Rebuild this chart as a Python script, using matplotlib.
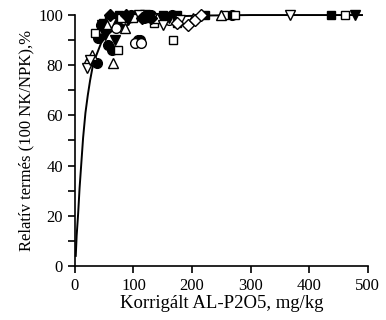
import matplotlib.pyplot as plt
import numpy as np

plt.rcParams['font.family'] = ['Liberation Serif', 'DejaVu Serif']

# fitted curve
curve_x = [1.5, 3, 5.6, 8, 11, 14, 18, 22, 26, 30, 35, 40, 45, 55, 65, 80, 100, 130, 170, 220, 300, 400, 490]
curve_y = [4, 12, 21, 31, 41, 51, 61, 68, 74, 79, 83, 86, 89, 92, 94, 96, 97.5, 98.8, 99.5, 99.8, 100, 100, 100]

# measured points by marker type
fcirc_x = [37, 39, 45, 56, 63, 70, 80, 95, 108, 111, 118, 130, 145, 165, 268]
fcirc_y = [81, 91, 96, 88, 86, 99, 97, 100, 90, 90, 99, 100, 99, 100, 100]
ocirc_x = [70, 85, 102, 113, 140, 160]
ocirc_y = [95, 98, 89, 89, 99, 98]
fsq_x = [48, 58, 75, 90, 105, 125, 150, 175, 222, 437]
fsq_y = [97, 98, 100, 99, 100, 99, 100, 100, 100, 100]
osq_x = [34, 55, 73, 78, 100, 135, 167, 175, 255, 273, 461]
osq_y = [93, 96, 86, 99, 99, 97, 90, 97, 100, 100, 100]
otri_x = [22, 29, 65, 85, 140, 201, 250]
otri_y = [82, 84, 81, 95, 99, 99, 100]
fdtri_x = [46, 52, 68, 90, 120, 160, 478]
fdtri_y = [96, 92, 90, 98, 100, 99, 100]
odtri_x = [20, 26, 62, 110, 150, 180, 367]
odtri_y = [79, 82, 97, 100, 96, 98, 100]
odia_x = [175, 193, 205, 215]
odia_y = [97, 96, 98, 100]
fdia_x = [60, 88, 115, 130]
fdia_y = [100, 100, 99, 99]

fig = plt.figure(figsize=(3.86, 3.2), dpi=100)
ax = fig.add_axes([0.194, 0.169, 0.759, 0.784])

ax.plot(curve_x, curve_y, 'k-', lw=1.4, zorder=1, clip_on=False)

ms = 7
kw = dict(ls='none', clip_on=False)
ax.plot(fcirc_x, fcirc_y, 'o', color='black', ms=ms, **kw)
ax.plot(ocirc_x, ocirc_y, 'o', mfc='white', mec='black', ms=ms, **kw)
ax.plot(fsq_x, fsq_y, 's', color='black', ms=ms - 1, **kw)
ax.plot(osq_x, osq_y, 's', mfc='white', mec='black', ms=ms - 1, **kw)
ax.plot(otri_x, otri_y, '^', mfc='white', mec='black', ms=ms, **kw)
ax.plot(fdtri_x, fdtri_y, 'v', color='black', ms=ms, **kw)
ax.plot(odtri_x, odtri_y, 'v', mfc='white', mec='black', ms=ms, **kw)
ax.plot(odia_x, odia_y, 'D', mfc='white', mec='black', ms=ms - 1, **kw)
ax.plot(fdia_x, fdia_y, 'D', color='black', ms=ms - 1, **kw)

ax.set_xlim(0, 500)
ax.set_ylim(0, 100)
ax.set_xticks(np.arange(0, 501, 100))
ax.set_yticks(np.arange(0, 101, 20))
ax.set_yticks(np.arange(10, 100, 20), minor=True)
ax.tick_params(which='both', direction='out', length=5, width=1.2, labelsize=12)
ax.spines['top'].set_visible(False)
ax.spines['right'].set_visible(False)
ax.spines['left'].set_linewidth(1.2)
ax.spines['bottom'].set_linewidth(1.2)

ax.set_xlabel("Korrigált AL-P2O5, mg/kg", fontsize=13.5, labelpad=1)
ax.set_ylabel("Relatív termés (100 NK/NPK),%", fontsize=12, labelpad=3)

plt.savefig('out.png', dpi=100)
